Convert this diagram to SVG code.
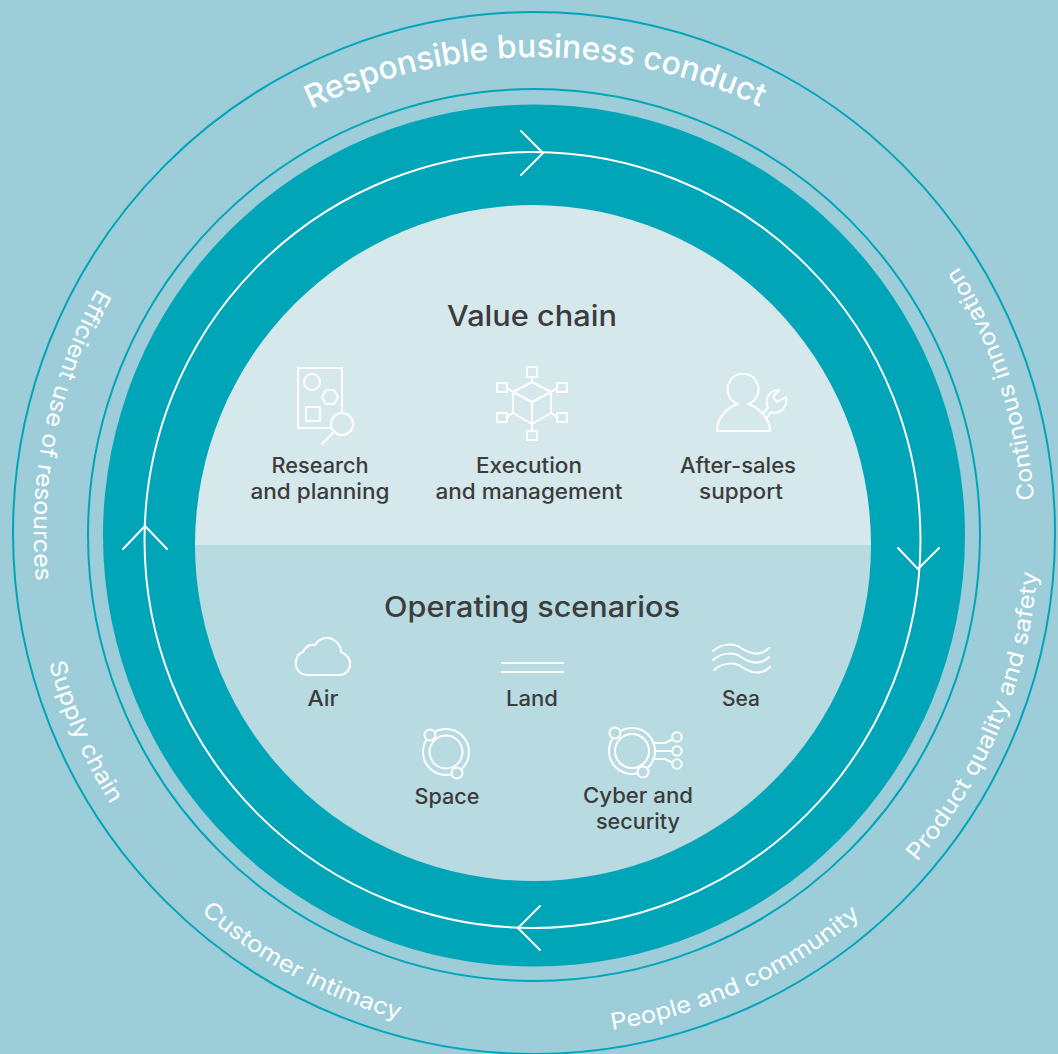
<svg xmlns="http://www.w3.org/2000/svg" width="1058" height="1054" viewBox="0 0 1058 1054">
<defs>
<style>
text{font-family:"Inter","Liberation Sans",sans-serif;font-weight:500;fill:#3c3c3c}
.h{font-size:28px;text-anchor:middle}
.l{font-size:21px;text-anchor:middle}
.a{fill:#fff;font-size:23px;font-weight:400}
.ic{fill:none;stroke:#fff;stroke-width:2;stroke-linecap:round;stroke-linejoin:round}
.th{fill:none;stroke:#00a5b8;stroke-width:2}
.w{fill:none;stroke:#fff;stroke-width:2;stroke-linecap:round;stroke-linejoin:round}
</style>
<path id="p0" d="M311 109A522 522 0 0 1 838 152" fill="none"/>
<path id="p1" d="M1034 500A500 500 0 0 0 888 179" fill="none"/>
<path id="p2" d="M917 862A505 505 0 0 0 1031 445" fill="none"/>
<path id="p3" d="M612 1030A503 503 0 0 0 970 785" fill="none"/>
<path id="p4" d="M201 912A505 505 0 0 0 665 1021" fill="none"/>
<path id="p5" d="M49 663A503 503 0 0 0 234 937" fill="none"/>
<path id="p6" d="M97.500 288.300A500 500 0 0 0 134 833" fill="none"/>
</defs>
<rect width="1058" height="1054" fill="#9ccdd9"/>
<g id="rings">
<circle cx="534" cy="533" r="521" class="th"/>
<circle cx="534" cy="535" r="446" class="th"/>
<circle cx="534" cy="535.500" r="431" fill="#00a5b8"/>
</g>
<g id="value-chain-half"><path d="M195 545A338 340 0 1 1 871 545Z" fill="#d5e8ec"/></g>
<g id="operating-half"><path d="M195 545A338 336 0 0 0 871 545Z" fill="#b8dae1"/></g>
<g id="connectors">
<circle cx="532.500" cy="540" r="388" class="w"/>
<path class="w" d="M521 131L543 153L521 175"/>
<path class="w" d="M898 548L918 569L939 548"/>
<path class="w" d="M540 906L518 928L540 950"/>
<path class="w" d="M123 549L145 526L167 549"/>
</g>
<g id="outer-labels">
<text class="a" style="font-size:32px;font-weight:500"><textPath href="#p0" textLength="464" lengthAdjust="spacingAndGlyphs">Responsible business conduct</textPath></text>
<text class="a"><textPath href="#p1" textLength="248" lengthAdjust="spacingAndGlyphs">Continous innovation</textPath></text>
<text class="a"><textPath href="#p2" textLength="319" lengthAdjust="spacingAndGlyphs">Product quality and safety</textPath></text>
<text class="a"><textPath href="#p3" textLength="277" lengthAdjust="spacingAndGlyphs">People and community</textPath></text>
<text class="a"><textPath href="#p4" textLength="227" lengthAdjust="spacingAndGlyphs">Customer intimacy</textPath></text>
<text class="a"><textPath href="#p5" textLength="155" lengthAdjust="spacingAndGlyphs">Supply chain</textPath></text>
<text class="a"><textPath href="#p6" textLength="304" lengthAdjust="spacingAndGlyphs">Efficient use of resources</textPath></text>
</g>
<text class="h" x="532" y="326" textLength="170" lengthAdjust="spacingAndGlyphs">Value chain</text>
<text class="h" x="532" y="617" textLength="296" lengthAdjust="spacingAndGlyphs">Operating scenarios</text>
<g id="research">
<path class="ic" d="M331 428H298V368H342V413"/><circle class="ic" cx="312" cy="382" r="8"/>
<path class="ic" d="M322 397L326 390H334L338 397L334 404H326Z"/><rect class="ic" x="306" y="407" width="14" height="14"/>
<circle class="ic" cx="342" cy="424" r="11"/><path class="ic" d="M333 433L322 444"/>
<text class="l" x="320" y="473" textLength="97" lengthAdjust="spacingAndGlyphs">Research</text><text class="l" x="320" y="499" textLength="139" lengthAdjust="spacingAndGlyphs">and planning</text>
</g>
<g id="execution">
<path class="ic" d="M532 382L551 392V413L532 424L513 413V392ZM513 392L532 402L551 392M532 402V424"/>
<path class="ic" d="M507 388L513 392M507 417L513 413M532 377V382M532 424V431M557 388L551 392M557 417L551 413"/>
<rect class="ic" x="527" y="367" width="10" height="10"/><rect class="ic" x="497" y="383" width="10" height="9"/><rect class="ic" x="497" y="413" width="10" height="9"/><rect class="ic" x="527" y="431" width="10" height="9"/><rect class="ic" x="557" y="383" width="10" height="9"/><rect class="ic" x="557" y="413" width="10" height="9"/>
<text class="l" x="529" y="473" textLength="106" lengthAdjust="spacingAndGlyphs">Execution</text><text class="l" x="529" y="499" textLength="187" lengthAdjust="spacingAndGlyphs">and management</text>
</g>
<g id="after-sales">
<path class="ic" d="M738 404A15.500 15.500 0 1 1 748 404C758 407 770 418 770 431H717C717 418 727 407 738 404"/>
<path class="ic" d="M762 414L768 408C764 398 770 390 779 390L773 397L777 402L786 397C788 408 779 415 771 412L766 419"/>
<text class="l" x="738" y="473" textLength="116" lengthAdjust="spacingAndGlyphs">After-sales</text><text class="l" x="741" y="499" textLength="84" lengthAdjust="spacingAndGlyphs">support</text>
</g>
<g id="air">
<path class="ic" d="M308 675C298 675 295 667 296 661C297 655 300 653 303 652C306 645 312 644 315 645C319 638 328 636 334 640C340 644 341 648 341 652C347 654 351 660 350 665C349 672 344 675 340 675Z"/>
<text class="l" x="323" y="706" textLength="31" lengthAdjust="spacingAndGlyphs">Air</text>
</g>
<g id="land"><path class="ic" d="M502 663H563M502 672H563" stroke-linecap="butt"/><text class="l" x="532" y="706" textLength="52" lengthAdjust="spacingAndGlyphs">Land</text></g>
<g id="sea">
<path class="ic" d="M713 651C722 643 734 643 741 648C750 654 760 657 769 648"/>
<path class="ic" d="M713 660C722 652 734 652 741 657C750 663 760 666 769 657"/>
<path class="ic" d="M714 670C723 662 735 662 742 667C751 673 761 676 770 667"/>
<text class="l" x="741" y="706" textLength="38" lengthAdjust="spacingAndGlyphs">Sea</text>
</g>
<g id="space">
<circle class="ic" cx="446" cy="752" r="23"/><circle class="ic" cx="446" cy="752" r="16.500"/>
<circle class="ic" cx="430" cy="735" r="5.500" style="fill:#b8dae1"/><circle class="ic" cx="457" cy="773" r="5.500" style="fill:#b8dae1"/>
<text class="l" x="447" y="804" textLength="65" lengthAdjust="spacingAndGlyphs">Space</text>
</g>
<g id="cyber">
<circle class="ic" cx="632" cy="751" r="23"/><circle class="ic" cx="632" cy="751" r="17"/>
<circle class="ic" cx="615" cy="733" r="5.500" style="fill:#b8dae1"/><circle class="ic" cx="643" cy="772" r="5.500" style="fill:#b8dae1"/>
<path class="ic" d="M653 743H665L673 739M655 751H672M653 759H665L673 763"/>
<circle class="ic" cx="677" cy="737" r="4.700" style="fill:#b8dae1"/><circle class="ic" cx="677" cy="751" r="4.700" style="fill:#b8dae1"/><circle class="ic" cx="677" cy="764" r="4.700" style="fill:#b8dae1"/>
<text class="l" x="638" y="803" textLength="110" lengthAdjust="spacingAndGlyphs">Cyber and</text><text class="l" x="638" y="829" textLength="84" lengthAdjust="spacingAndGlyphs">security</text>
</g>
</svg>
